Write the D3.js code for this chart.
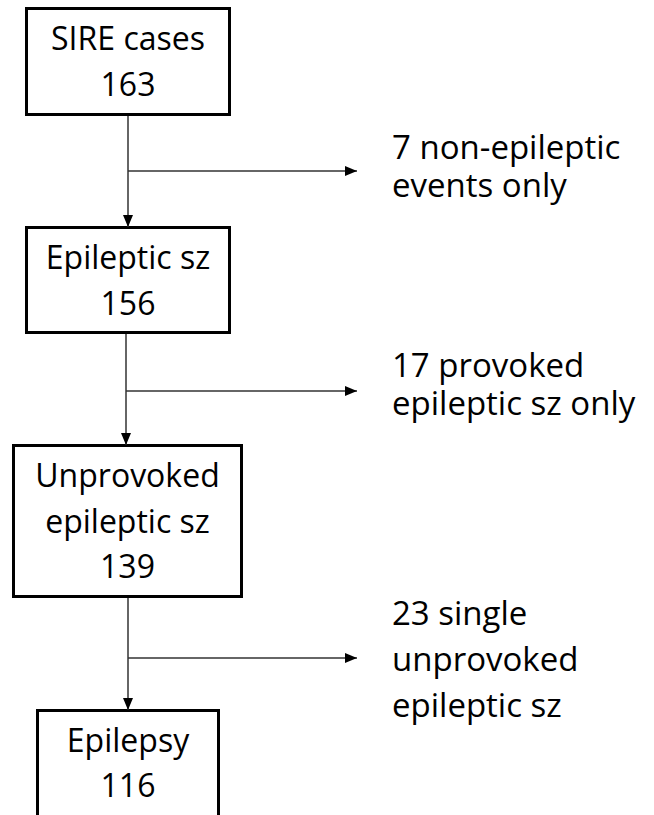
<!DOCTYPE html>
<html>
<head>
<meta charset="utf-8">
<script src="https://cdn.jsdelivr.net/npm/d3@7/dist/d3.min.js"></script>
<style>
  html, body { margin: 0; padding: 0; background: #fff; }
  svg { display: block; }
  text { font-family: "Open Sans", sans-serif; fill: #000; }
</style>
</head>
<body>
<svg id="chart" width="654" height="815"></svg>
<script>
// ---- Data ----
const stageNames = [["SIRE cases"], ["Epileptic sz"], ["Unprovoked", "epileptic sz"], ["Epilepsy"]];
const stageCounts = [163, 156, 139, 116];
const excludedCounts = [7, 17, 23];
const excludedLabels = [
  ["non-epileptic", "events only"],
  ["provoked", "epileptic sz only"],
  ["single", "unprovoked", "epileptic sz"]
];

// ---- Layout (positions/styles only) ----
const boxLayout = [
  { x0: 25, x1: 231, y0: 7,   y1: 116, baselines: [50, 96] },
  { x0: 25, x1: 231, y0: 226, y1: 334, baselines: [269, 315] },
  { x0: 12, x1: 243, y0: 444, y1: 598, baselines: [487, 533, 578] },
  { x0: 36, x1: 220, y0: 709, y1: 840, baselines: [752, 797] }
];
const trunkX = [128, 126, 128];
const branchY = [171, 391, 658];
const branchTipX = 357;
const labelX = 392;
const labelBaselines = [[159, 197], [377, 415], [625, 671, 717]];
const boxFontSize = 32;
const labelFontSize = 33;
const bw = 3;

const svg = d3.select("#chart");

svg.append("defs").append("marker")
  .attr("id", "arrow")
  .attr("viewBox", "0 0 12 10")
  .attr("refX", 12).attr("refY", 5)
  .attr("markerWidth", 12).attr("markerHeight", 10)
  .attr("markerUnits", "userSpaceOnUse")
  .attr("orient", "auto")
  .append("path").attr("d", "M0,0 L12,5 L0,10 Z").attr("fill", "#000");

// Boxes
const stages = stageNames.map((lines, i) => ({ lines: lines.concat([String(stageCounts[i])]), L: boxLayout[i] }));

const g = svg.append("g");
g.selectAll("rect.box").data(stages).join("rect")
  .attr("class", "box")
  .attr("x", d => d.L.x0 + bw / 2)
  .attr("y", d => d.L.y0 + bw / 2)
  .attr("width", d => d.L.x1 - d.L.x0 - bw)
  .attr("height", d => d.L.y1 - d.L.y0 - bw)
  .attr("fill", "#fff")
  .attr("stroke", "#000")
  .attr("stroke-width", bw);

g.selectAll("text.box").data(stages).join("text")
  .attr("class", "box")
  .attr("text-anchor", "middle")
  .attr("font-size", boxFontSize)
  .each(function(d) {
    const cx = (d.L.x0 + d.L.x1) / 2;
    d3.select(this).selectAll("tspan").data(d.lines.map((t, j) => ({ t, y: d.L.baselines[j], cx })))
      .join("tspan")
      .attr("x", e => e.cx)
      .attr("y", e => e.y)
      .text(e => e.t);
  });

// Connectors
const links = d3.range(stages.length - 1).map(i => ({
  x: trunkX[i], y0: boxLayout[i].y1, y1: boxLayout[i + 1].y0 + 1, by: branchY[i]
}));

g.selectAll("line.trunk").data(links).join("line")
  .attr("class", "trunk")
  .attr("x1", d => d.x).attr("x2", d => d.x)
  .attr("y1", d => d.y0).attr("y2", d => d.y1)
  .attr("stroke", "#333").attr("stroke-width", 1.5)
  .attr("marker-end", "url(#arrow)");

g.selectAll("line.branch").data(links).join("line")
  .attr("class", "branch")
  .attr("x1", d => d.x).attr("x2", branchTipX)
  .attr("y1", d => d.by).attr("y2", d => d.by)
  .attr("stroke", "#333").attr("stroke-width", 1.5)
  .attr("marker-end", "url(#arrow)");

// Exclusion labels
const exclusions = excludedCounts.map((n, i) => {
  const lines = excludedLabels[i].slice();
  lines[0] = n + " " + lines[0];
  return { lines, baselines: labelBaselines[i] };
});

g.selectAll("text.excl").data(exclusions).join("text")
  .attr("class", "excl")
  .attr("font-size", labelFontSize)
  .each(function(d) {
    d3.select(this).selectAll("tspan").data(d.lines.map((t, j) => ({ t, y: d.baselines[j] })))
      .join("tspan")
      .attr("x", labelX)
      .attr("y", e => e.y)
      .text(e => e.t);
  });
</script>
</body>
</html>
